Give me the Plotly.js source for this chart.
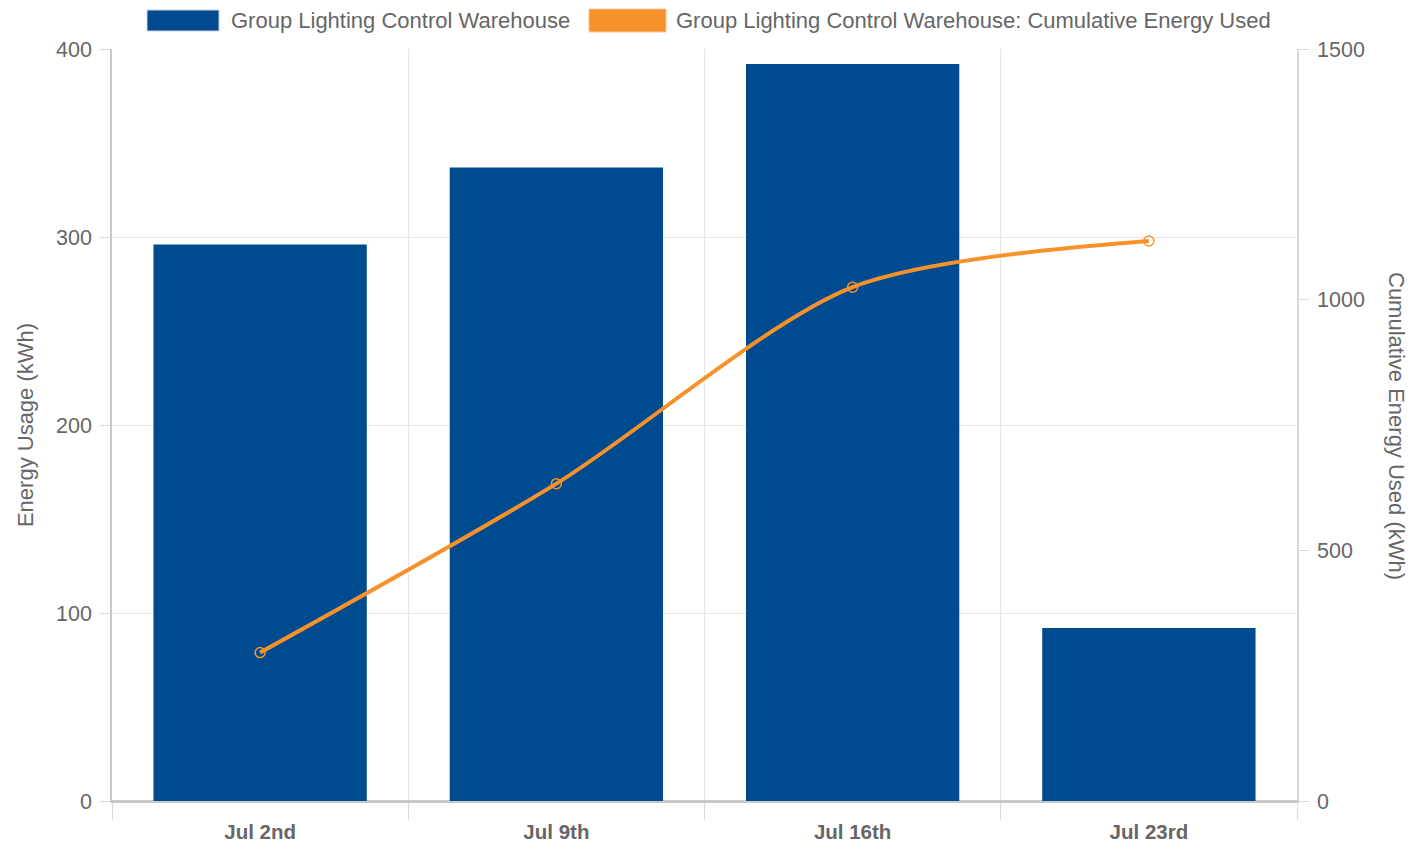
<!DOCTYPE html>
<html><head><meta charset="utf-8">
<script src="https://cdn.plot.ly/plotly-3.0.1.min.js"></script>
<style>html,body{margin:0;padding:0;background:#fff}#chart{width:1413px;height:849px}</style>
</head><body><div id="chart"></div>
<script>
const categories = ["Jul 2nd", "Jul 9th", "Jul 16th", "Jul 23rd"];
const energyUsage = [296, 337, 392, 92];
const cumulativeEnergy = [296, 633, 1025, 1117];
const seriesNames = ["Group Lighting Control Warehouse", "Group Lighting Control Warehouse: Cumulative Energy Used"];
const leftTicks = [0, 100, 200, 300, 400];
const rightTicks = [0, 500, 1000, 1500];

const BLUE = "#004a8f", ORANGE = "#f7922a", GREY = "#666666";
const FONT = "Liberation Sans, Arial, sans-serif";

const traces = [
  {type: "bar", x: categories, y: energyUsage, name: seriesNames[0], marker: {color: BLUE}, yaxis: "y", hoverinfo: "x+y"},
  {type: "scatter", mode: "lines+markers", x: categories, y: cumulativeEnergy, name: seriesNames[1], yaxis: "y2",
   line: {color: ORANGE, width: 4, shape: "spline", smoothing: 0.8},
   marker: {symbol: "circle-open", size: 10, color: ORANGE, line: {width: 1.5, color: ORANGE}}}
];

const L = 112, R = 1297, T = 49, B = 801;
const px = x => (x - L) / (R - L);
const py = y => (B - y) / (B - T);

const layout = {
  width: 1413, height: 849,
  margin: {l: L, r: 1413 - R, t: T, b: 849 - B},
  paper_bgcolor: "#fff", plot_bgcolor: "#fff",
  font: {family: FONT, color: GREY, size: 21},
  showlegend: false,
  bargap: 0.28,
  xaxis: {
    type: "category", tickson: "boundaries", ticks: "outside", ticklen: 17, tickcolor: "#d9d9d9",
    showgrid: true, gridcolor: "#e6e6e6", gridwidth: 1,
    showline: true, linecolor: "#c8c8c8", linewidth: 1.5,
    ticklabelstandoff: 12,
    tickfont: {size: 20.5, color: GREY, weight: "bold"}, fixedrange: true
  },
  yaxis: {
    range: [0, 400], tickvals: leftTicks, ticks: "outside", ticklen: 10, tickcolor: "#d9d9d9",
    showgrid: true, gridcolor: "#e6e6e6", zeroline: true, zerolinecolor: "#c8c8c8", zerolinewidth: 1.5,
    showline: true, linecolor: "#c8c8c8", linewidth: 1.5,
    ticklabelstandoff: 4,
    tickfont: {size: 21.5, color: GREY},
    title: {text: "Energy Usage (kWh)", font: {size: 22, color: GREY}, standoff: 16}
  },
  yaxis2: {
    overlaying: "y", side: "right", range: [0, 1500], tickvals: rightTicks, ticks: "outside", ticklen: 10,
    tickcolor: "#d9d9d9", showgrid: false, zeroline: false,
    showline: true, linecolor: "#d9d9d9", linewidth: 1.5,
    ticklabelstandoff: 4,
    tickfont: {size: 21.5, color: GREY}
  },
  shapes: [
    {type: "rect", xref: "paper", yref: "paper", x0: px(147), x1: px(219), y0: py(31), y1: py(10),
     fillcolor: BLUE, line: {color: "#c8d3e0", width: 1}},
    {type: "rect", xref: "paper", yref: "paper", x0: px(589), x1: px(666), y0: py(32), y1: py(9),
     fillcolor: ORANGE, line: {color: "#f0c89a", width: 1}}
  ],
  annotations: [
    {xref: "paper", yref: "paper", x: px(229), y: py(20), xanchor: "left", yanchor: "middle", showarrow: false,
     text: seriesNames[0], font: {size: 22, color: GREY}},
    {xref: "paper", yref: "paper", x: px(674), y: py(20), xanchor: "left", yanchor: "middle", showarrow: false,
     text: seriesNames[1], font: {size: 22, color: GREY}},
    {xref: "paper", yref: "paper", x: px(1397), y: py(426), xanchor: "center", yanchor: "middle", showarrow: false,
     text: "Cumulative Energy Used (kWh)", textangle: 90, font: {size: 22, color: GREY}}
  ]
};

Plotly.newPlot("chart", traces, layout, {displayModeBar: false, responsive: false});
</script></body></html>
